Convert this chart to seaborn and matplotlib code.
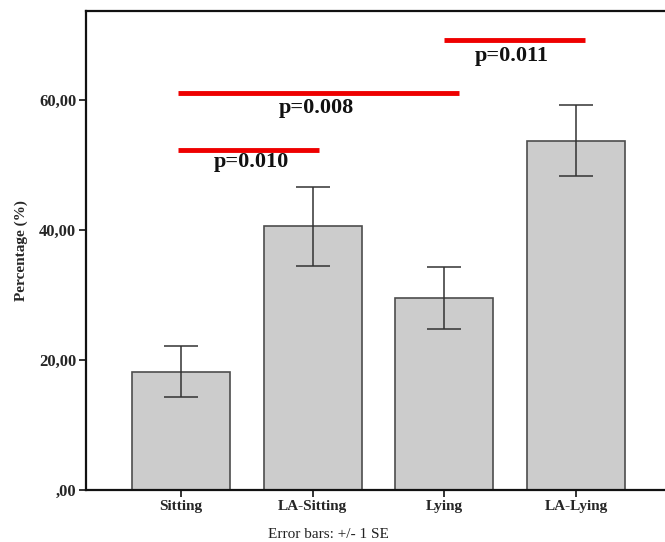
import matplotlib
matplotlib.use("Agg")
import matplotlib.pyplot as plt
import seaborn as sns
import pandas as pd
import numpy as np

categories = ["Sitting", "LA-Sitting", "Lying", "LA-Lying"]
means = [18.2, 40.6, 29.6, 53.7]
err_low = [14.3, 34.5, 24.8, 48.3]
err_high = [22.2, 46.6, 34.3, 59.2]
yticks = [0, 20, 40, 60]
ytick_labels = [",00", "20,00", "40,00", "60,00"]

# significance brackets
sig_x0 = [-0.02, -0.02, 2.0]
sig_x1 = [1.05, 2.11, 3.07]
sig_y = [52.3, 61.0, 69.2]
sig_text = ["p=0.010", "p=0.008", "p=0.011"]
sig_tx = [0.535, 1.03, 2.51]
sig_ty = [50.5, 58.8, 66.7]

sns.set_style("white")
plt.rcParams["font.family"] = ["Liberation Serif", "DejaVu Serif"]

fig = plt.figure(figsize=(6.65, 5.42), dpi=100)
ax = fig.add_axes([0.1293, 0.0959, 0.8707, 0.884])

df = pd.DataFrame({"cat": categories, "val": means})
sns.barplot(data=df, x="cat", y="val", order=categories, color="#cccccc",
            edgecolor="#4d4d4d", linewidth=1.2, width=0.745, saturation=1,
            errorbar=None, ax=ax)
for p in ax.patches:
    p.set_facecolor("#cccccc")

m = np.array(means)
yerr = np.vstack([m - np.array(err_low), np.array(err_high) - m])
ax.errorbar(np.arange(len(categories)), m, yerr=yerr, fmt="none",
            ecolor="#333333", elinewidth=1.1, capsize=12, capthick=1.1)

for x0, x1, y, t, tx, ty in zip(sig_x0, sig_x1, sig_y, sig_text, sig_tx, sig_ty):
    ax.plot([x0, x1], [y, y], color="#ee0000", lw=3.5, solid_capstyle="butt")
    ax.text(tx, ty, t, ha="center", va="center", fontsize=16,
            fontweight="bold", color="#111111")

ax.set_xlim(-0.721, 3.675)
ax.set_ylim(0, 73.7)
ax.set_yticks(yticks)
ax.set_yticklabels(ytick_labels, fontsize=12, fontweight="bold")
ax.set_xticks(range(len(categories)))
ax.set_xticklabels(categories, fontsize=11, fontweight="bold")
ax.tick_params(axis="both", direction="out", length=5, width=1.2,
               color="#111111", bottom=True, left=True, pad=2)
ax.set_xlabel("")
ax.set_ylabel("Percentage (%)", fontsize=11, fontweight="bold", labelpad=8)

for s in ["left", "bottom", "top"]:
    ax.spines[s].set_visible(True)
    ax.spines[s].set_color("#111111")
    ax.spines[s].set_linewidth(1.6)
ax.spines["right"].set_visible(False)

fig.text(328 / 665, 1 - 535 / 542, "Error bars: +/- 1 SE", ha="center",
         va="center", fontsize=11, color="#222222")

fig.savefig("out.png", dpi=100)
